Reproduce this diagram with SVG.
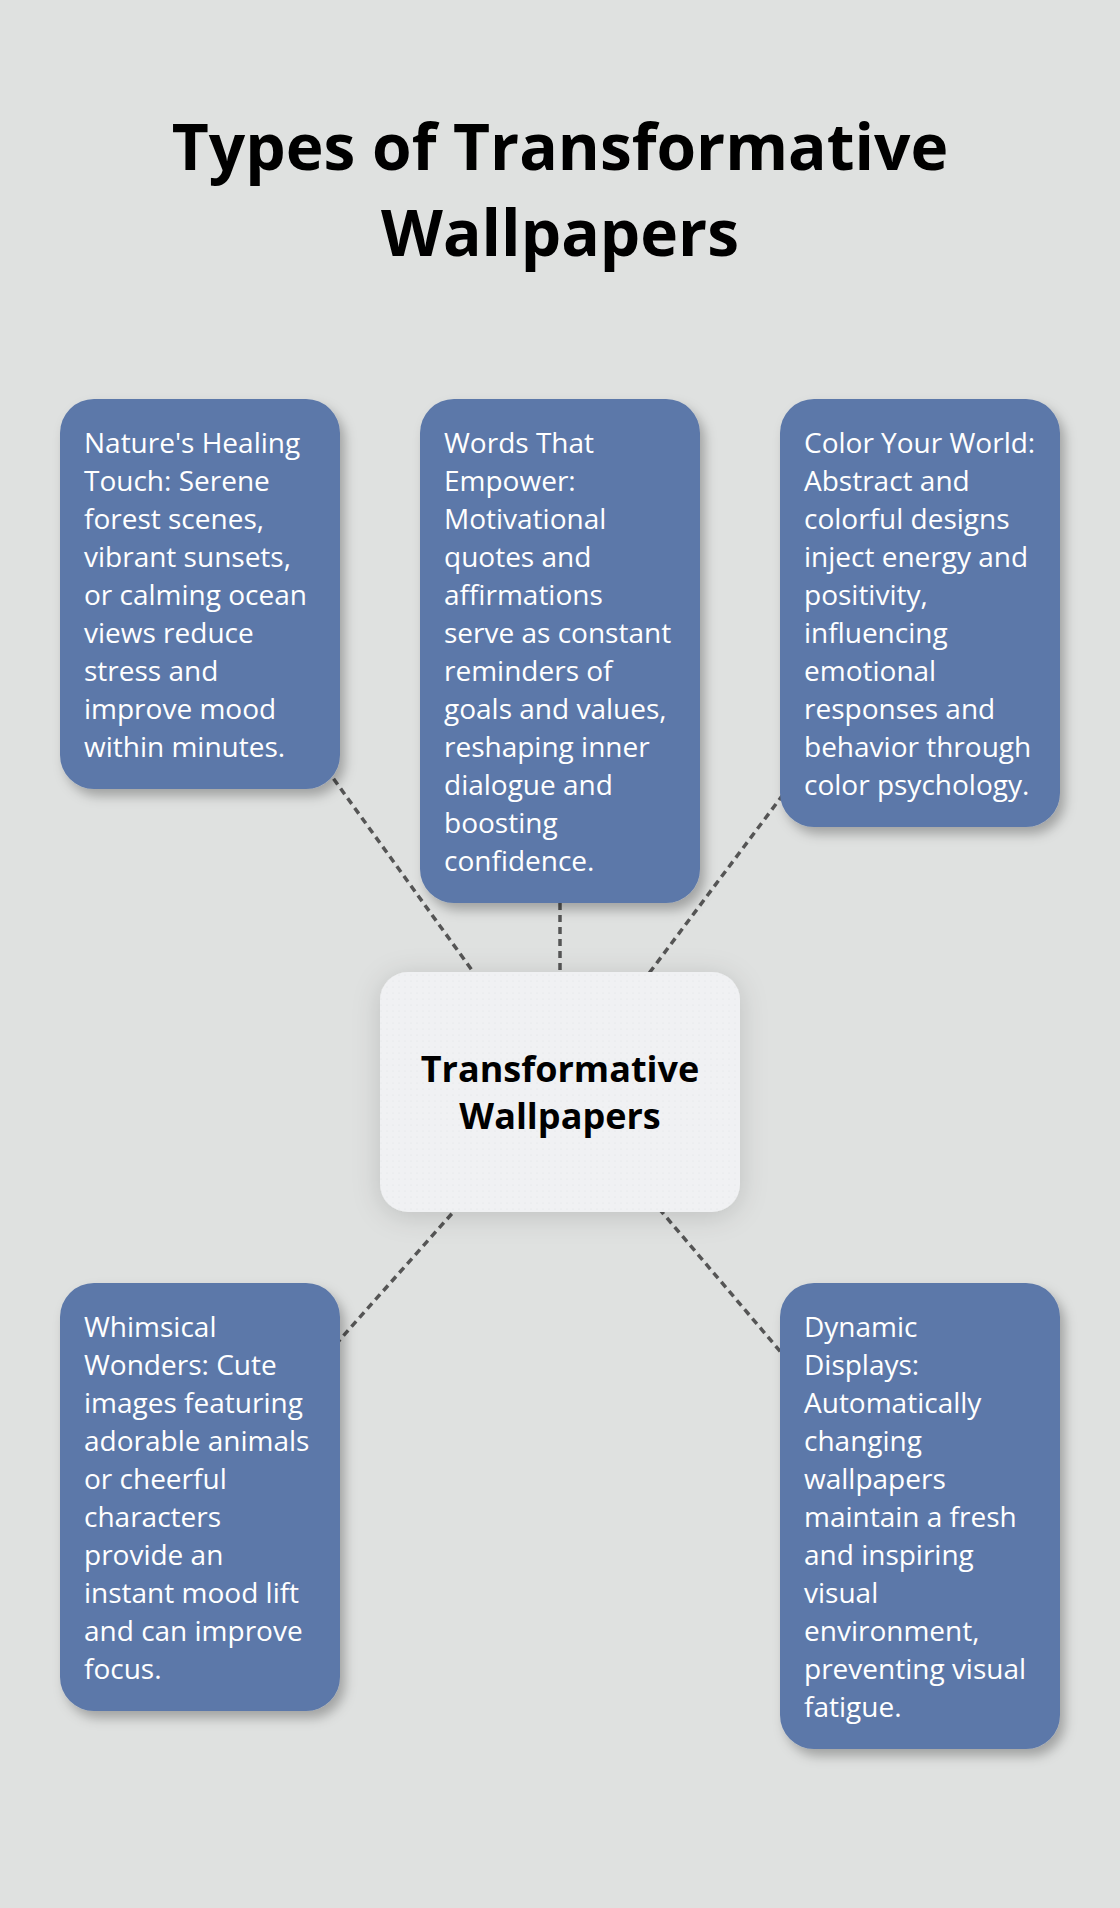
<svg xmlns="http://www.w3.org/2000/svg" width="1120" height="1908" viewBox="0 0 1120 1908">
<style>
.title{font-family:"Open Sans","Liberation Sans",sans-serif;font-weight:700;font-size:64px;fill:#000;text-anchor:middle}
.card{fill:#5C78A9}
.body{font-family:"Open Sans","Liberation Sans",sans-serif;font-size:28px;fill:#FFFFFF}
.hub{fill:#F0F1F3}
.hubtext{font-family:"Open Sans","Liberation Sans",sans-serif;font-weight:700;font-size:36px;fill:#000;text-anchor:middle}
.conn{stroke:#555555;stroke-width:3.5;stroke-dasharray:7 5;fill:none}
</style>
<defs>
<filter id="sh" x="-20%" y="-20%" width="150%" height="150%">
<feDropShadow dx="5" dy="7" stdDeviation="6" flood-color="#000" flood-opacity="0.28"/>
</filter>
<filter id="sh2" x="-30%" y="-30%" width="160%" height="160%">
<feDropShadow dx="0" dy="4" stdDeviation="14" flood-color="#000" flood-opacity="0.15"/>
</filter>
<pattern id="dots" width="6" height="6" patternUnits="userSpaceOnUse">
<rect width="6" height="6" fill="#F0F1F3"/>
<circle cx="3" cy="3" r="0.6" fill="#E0E2E5"/>
</pattern>
</defs>
<rect width="1120" height="1908" fill="#DFE1E0"/>
<g id="title">
<text class="title" x="560" y="170">Types of Transformative</text>
<text class="title" x="560" y="256">Wallpapers</text>
</g>
<g id="connectors">
<line class="conn" x1="200" y1="594" x2="560" y2="1092"/>
<line class="conn" x1="560" y1="651" x2="560" y2="1092"/>
<line class="conn" x1="920" y1="612" x2="560" y2="1092"/>
<line class="conn" x1="200" y1="1497" x2="560" y2="1092"/>
<line class="conn" x1="920" y1="1516" x2="560" y2="1092"/>
</g>
<g id="hub">
<rect x="380" y="972" width="360" height="240" rx="28" fill="url(#dots)" filter="url(#sh2)"/>
<text class="hubtext" x="560" y="1082">Transformative</text>
<text class="hubtext" x="560" y="1129">Wallpapers</text>
</g>
<g id="nature">
<rect class="card" x="60" y="399" width="280" height="390" rx="34" filter="url(#sh)"/>
<text class="body" x="84" y="453">Nature's Healing</text>
<text class="body" x="84" y="491">Touch: Serene</text>
<text class="body" x="84" y="529">forest scenes,</text>
<text class="body" x="84" y="567">vibrant sunsets,</text>
<text class="body" x="84" y="605">or calming ocean</text>
<text class="body" x="84" y="643">views reduce</text>
<text class="body" x="84" y="681">stress and</text>
<text class="body" x="84" y="719">improve mood</text>
<text class="body" x="84" y="757">within minutes.</text>
</g>
<g id="words">
<rect class="card" x="420" y="399" width="280" height="504" rx="34" filter="url(#sh)"/>
<text class="body" x="444" y="453">Words That</text>
<text class="body" x="444" y="491">Empower:</text>
<text class="body" x="444" y="529">Motivational</text>
<text class="body" x="444" y="567">quotes and</text>
<text class="body" x="444" y="605">affirmations</text>
<text class="body" x="444" y="643">serve as constant</text>
<text class="body" x="444" y="681">reminders of</text>
<text class="body" x="444" y="719">goals and values,</text>
<text class="body" x="444" y="757">reshaping inner</text>
<text class="body" x="444" y="795">dialogue and</text>
<text class="body" x="444" y="833">boosting</text>
<text class="body" x="444" y="871">confidence.</text>
</g>
<g id="color">
<rect class="card" x="780" y="399" width="280" height="428" rx="34" filter="url(#sh)"/>
<text class="body" x="804" y="453">Color Your World:</text>
<text class="body" x="804" y="491">Abstract and</text>
<text class="body" x="804" y="529">colorful designs</text>
<text class="body" x="804" y="567">inject energy and</text>
<text class="body" x="804" y="605">positivity,</text>
<text class="body" x="804" y="643">influencing</text>
<text class="body" x="804" y="681">emotional</text>
<text class="body" x="804" y="719">responses and</text>
<text class="body" x="804" y="757">behavior through</text>
<text class="body" x="804" y="795">color psychology.</text>
</g>
<g id="whimsical">
<rect class="card" x="60" y="1283" width="280" height="428" rx="34" filter="url(#sh)"/>
<text class="body" x="84" y="1337">Whimsical</text>
<text class="body" x="84" y="1375">Wonders: Cute</text>
<text class="body" x="84" y="1413">images featuring</text>
<text class="body" x="84" y="1451">adorable animals</text>
<text class="body" x="84" y="1489">or cheerful</text>
<text class="body" x="84" y="1527">characters</text>
<text class="body" x="84" y="1565">provide an</text>
<text class="body" x="84" y="1603">instant mood lift</text>
<text class="body" x="84" y="1641">and can improve</text>
<text class="body" x="84" y="1679">focus.</text>
</g>
<g id="dynamic">
<rect class="card" x="780" y="1283" width="280" height="466" rx="34" filter="url(#sh)"/>
<text class="body" x="804" y="1337">Dynamic</text>
<text class="body" x="804" y="1375">Displays:</text>
<text class="body" x="804" y="1413">Automatically</text>
<text class="body" x="804" y="1451">changing</text>
<text class="body" x="804" y="1489">wallpapers</text>
<text class="body" x="804" y="1527">maintain a fresh</text>
<text class="body" x="804" y="1565">and inspiring</text>
<text class="body" x="804" y="1603">visual</text>
<text class="body" x="804" y="1641">environment,</text>
<text class="body" x="804" y="1679">preventing visual</text>
<text class="body" x="804" y="1717">fatigue.</text>
</g>
</svg>
